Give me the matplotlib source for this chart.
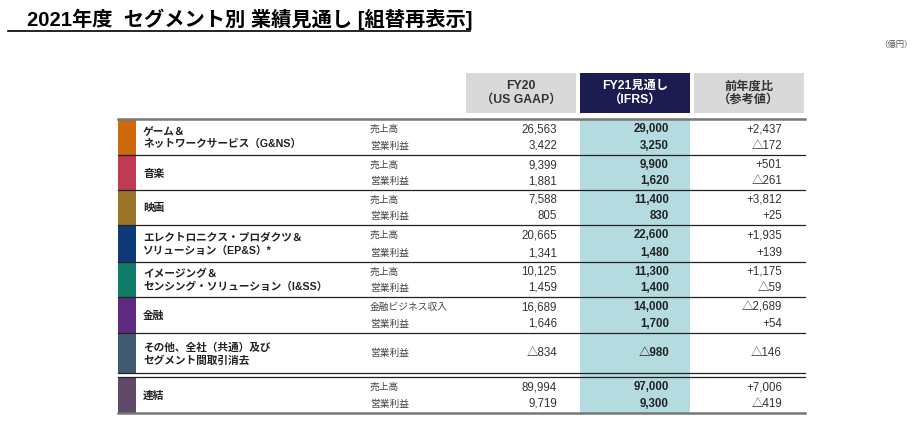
import matplotlib
matplotlib.use("Agg")
import matplotlib.pyplot as plt
from matplotlib.patches import Rectangle

plt.rcParams['font.family'] = ['Liberation Sans', 'Noto Sans CJK JP', 'DejaVu Sans']

# ---- data ----
title = "2021年度  セグメント別 業績見通し [組替再表示]"
unit = "（億円）"
col_headers = ["FY20\n（US GAAP）", "FY21見通し\n（IFRS）", "前年度比\n（参考値）"]
segments = ["ゲーム＆\nネットワークサービス（G&NS）", "音楽", "映画",
            "エレクトロニクス・プロダクツ＆\nソリューション（EP&S）*",
            "イメージング＆\nセンシング・ソリューション（I&SS）", "金融",
            "その他、全社（共通）及び\nセグメント間取引消去", "連結"]
seg_colors = ["#cf6a0c", "#bf3a52", "#9a7428", "#0f3a78", "#0e7c66",
              "#5e2a82", "#405a70", "#5e4a66"]
sub_labels = [["売上高", "営業利益"], ["売上高", "営業利益"], ["売上高", "営業利益"],
              ["売上高", "営業利益"], ["売上高", "営業利益"], ["金融ビジネス収入", "営業利益"],
              ["営業利益"], ["売上高", "営業利益"]]
fy20 = [["26,563", "3,422"], ["9,399", "1,881"], ["7,588", "805"],
        ["20,665", "1,341"], ["10,125", "1,459"], ["16,689", "1,646"],
        ["△834"], ["89,994", "9,719"]]
fy21 = [["29,000", "3,250"], ["9,900", "1,620"], ["11,400", "830"],
        ["22,600", "1,480"], ["11,300", "1,400"], ["14,000", "1,700"],
        ["△980"], ["97,000", "9,300"]]
diff = [["+2,437", "△172"], ["+501", "△261"], ["+3,812", "+25"],
        ["+1,935", "+139"], ["+1,175", "△59"], ["△2,689", "+54"],
        ["△146"], ["+7,006", "△419"]]

# ---- layout (pixel coordinates) ----
W, H = 923, 426
fig = plt.figure(figsize=(W / 100, H / 100), dpi=100)
ax = fig.add_axes([0, 0, 1, 1])
ax.set_xlim(0, W)
ax.set_ylim(H, 0)
ax.axis('off')

ax.text(27, 19, title, fontsize=14.6, fontweight='bold', va='center', ha='left', color='black')
ax.plot([8, 470], [31, 31], color='black', lw=1.2)
ax.text(913, 45, unit, fontsize=6, color='#555555', ha='right', va='center')

# header boxes
hdr_x = [466, 580, 694]
hdr_w = 110
hdr_fc = ["#d9d9d9", "#1c1c50", "#d9d9d9"]
hdr_tc = ["#333333", "white", "#333333"]
for x0, fc, tc, t in zip(hdr_x, hdr_fc, hdr_tc, col_headers):
    ax.add_patch(Rectangle((x0, 73), hdr_w, 40, fc=fc, ec='none'))
    ax.text(x0 + hdr_w / 2, 93, t, fontsize=8.8, fontweight='bold', color=tc,
            ha='center', va='center', linespacing=1.15)

top = 119
x_left, x_right = 118, 805
bounds = [119, 155, 190, 225, 262, 297, 333, 373]
bounds2 = [377, 413]
group_tops = bounds[:-1] + [bounds2[0]]
group_bots = bounds[1:] + [bounds2[1]]

# highlighted column
ax.add_patch(Rectangle((580, top), 110, bounds2[1] - top, fc="#b3dbe0", ec='none', zorder=0))

for i in range(len(segments)):
    y0, y1 = group_tops[i], group_bots[i]
    ax.add_patch(Rectangle((x_left, y0), 18, y1 - y0, fc=seg_colors[i], ec='none'))
    yc = (y0 + y1) / 2
    ax.text(143, yc + 1, segments[i], fontsize=7.7, fontweight='bold', color='#222222',
            ha='left', va='center', linespacing=1.3)
    n = len(sub_labels[i])
    if n == 2:
        ys = [y0 + 10, y1 - 9]
    else:
        ys = [yc]
    for j in range(n):
        y = ys[j]
        ax.text(370, y, sub_labels[i][j], fontsize=7, color='#444444', ha='left', va='center')
        ax.text(557, y, fy20[i][j], fontsize=8.3, color='#333333', ha='right', va='center')
        ax.text(669, y, fy21[i][j], fontsize=8.3, fontweight='bold', color='#222222',
                ha='right', va='center')
        ax.text(782, y, diff[i][j], fontsize=8.3, color='#333333', ha='right', va='center')

# lines
ax.plot([x_left, x_right], [top, top], color='#777777', lw=1.8)
for b in bounds[1:]:
    ax.plot([x_left, x_right], [b, b], color='#222222', lw=0.9)
ax.plot([x_left, x_right], [bounds2[0], bounds2[0]], color='#222222', lw=0.9)
ax.plot([x_left, x_right], [bounds2[1], bounds2[1]], color='#777777', lw=1.8)

fig.savefig("out.png", dpi=100)
